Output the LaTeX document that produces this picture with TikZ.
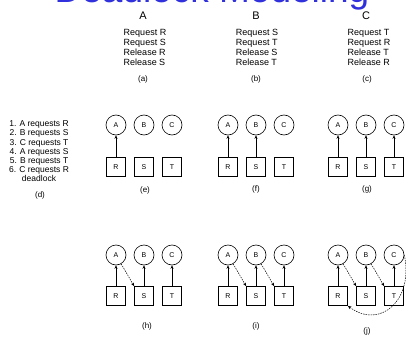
\documentclass[tikz,border=0pt]{standalone}
\usepackage{fontspec}
\setmainfont{Liberation Sans}
\usetikzlibrary{arrows.meta}
\definecolor{titleblue}{RGB}{48,48,220}
\begin{document}
\begin{tikzpicture}[x=1pt,y=-1pt,
  proc/.style={circle,draw,line width=0.6pt,minimum size=20pt,inner sep=0pt,font=\fontsize{7}{7}\selectfont},
  res/.style={rectangle,draw,line width=0.7pt,minimum size=19pt,inner sep=0pt,font=\fontsize{7}{7}\selectfont},
  held/.style={-{Stealth[length=3.5pt,width=3pt]},line width=0.5pt},
  req/.style={-{Stealth[length=3.5pt,width=3pt]},line width=0.5pt,dash pattern=on 1.5pt off 1pt},
  sublabel/.style={font=\fontsize{8}{8}\selectfont},
  stmt/.style={font=\fontsize{9}{10}\selectfont,align=left,inner sep=0pt},
  seq/.style={font=\fontsize{8.5}{9.2}\selectfont,align=center,inner sep=0pt},
  head/.style={font=\fontsize{11}{11}\selectfont}]
\useasboundingbox (0,0) rectangle (406,342);
% title
\node[anchor=base,text=titleblue,font=\fontsize{37}{37}\selectfont,inner sep=0pt] (title) at (212,2.5) {Deadlock Modeling};
% column heads
\node[head] (hA) at (143,15.5) {A};
\node[head] (hB) at (256,15.5) {B};
\node[head] (hC) at (366,15.5) {C};
% statements
\node[stmt] (sA) at (145,47) {Request R\\Request S\\Release R\\Release S};
\node[stmt] (sB) at (257,47) {Request S\\Request T\\Release S\\Release T};
\node[stmt] (sC) at (369,47) {Request T\\Request R\\Release T\\Release R};
\node[sublabel] (la) at (143,79) {(a)};
\node[sublabel] (lb) at (256,79) {(b)};
\node[sublabel] (lc) at (367,79) {(c)};
% sequence
\node[seq] (sq) at (39,151.5) {1. A requests R\\2. B requests S\\3. C requests T\\4. A requests S\\5. B requests T\\6. C requests R\\deadlock};
\node[sublabel] (ld) at (40,195) {(d)};
% ---------- row 1 ----------
% (e)
\node[proc] (eA) at (116,125) {A};
\node[proc] (eB) at (144,125) {B};
\node[proc] (eC) at (172,125) {C};
\node[res] (eR) at (116,167) {R};
\node[res] (eS) at (144,167) {S};
\node[res] (eT) at (172,167) {T};
\draw[held] (eR) -- (eA);
\node[sublabel] (le) at (145,190) {(e)};
% (f)
\node[proc] (fA) at (228,125) {A};
\node[proc] (fB) at (256,125) {B};
\node[proc] (fC) at (284,125) {C};
\node[res] (fR) at (228,167) {R};
\node[res] (fS) at (256,167) {S};
\node[res] (fT) at (284,167) {T};
\draw[held] (fR) -- (fA);
\draw[held] (fS) -- (fB);
\node[sublabel] (lf) at (256,189) {(f)};
% (g)
\node[proc] (gA) at (338,125) {A};
\node[proc] (gB) at (366,125) {B};
\node[proc] (gC) at (394,125) {C};
\node[res] (gR) at (338,167) {R};
\node[res] (gS) at (366,167) {S};
\node[res] (gT) at (394,167) {T};
\draw[held] (gR) -- (gA);
\draw[held] (gS) -- (gB);
\draw[held] (gT) -- (gC);
\node[sublabel] (lg) at (367,189) {(g)};
% ---------- row 2 ----------
% (h)
\node[proc] (hhA) at (116,255) {A};
\node[proc] (hhB) at (144,255) {B};
\node[proc] (hhC) at (172,255) {C};
\node[res] (hR) at (116,296) {R};
\node[res] (hS) at (144,296) {S};
\node[res] (hT) at (172,296) {T};
\draw[held] (hR) -- (hhA);
\draw[held] (hS) -- (hhB);
\draw[held] (hT) -- (hhC);
\draw[req] (hhA) -- (hS.north west);
\node[sublabel] (lh) at (147,326) {(h)};
% (i)
\node[proc] (iA) at (228,255) {A};
\node[proc] (iB) at (256,255) {B};
\node[proc] (iC) at (284,255) {C};
\node[res] (iR) at (228,296) {R};
\node[res] (iS) at (256,296) {S};
\node[res] (iT) at (284,296) {T};
\draw[held] (iR) -- (iA);
\draw[held] (iS) -- (iB);
\draw[held] (iT) -- (iC);
\draw[req] (iA) -- (iS.north west);
\draw[req] (iB) -- (iT.north west);
\node[sublabel] (li) at (256,326) {(i)};
% (j)
\node[proc] (jA) at (338,255) {A};
\node[proc] (jB) at (366,255) {B};
\node[proc] (jC) at (394,255) {C};
\node[res] (jR) at (338,296) {R};
\node[res] (jS) at (366,296) {S};
\node[res] (jT) at (394,296) {T};
\draw[held] (jR) -- (jA);
\draw[held] (jS) -- (jB);
\draw[held] (jT) -- (jC);
\draw[req] (jA) -- (jS.north west);
\draw[req] (jB) -- (jT.north west);
\draw[req] (jC.east) .. controls (414,300) and (380,330) .. (jR.south east);
\node[sublabel] (lj) at (367,331) {(j)};
\end{tikzpicture}
\end{document}
